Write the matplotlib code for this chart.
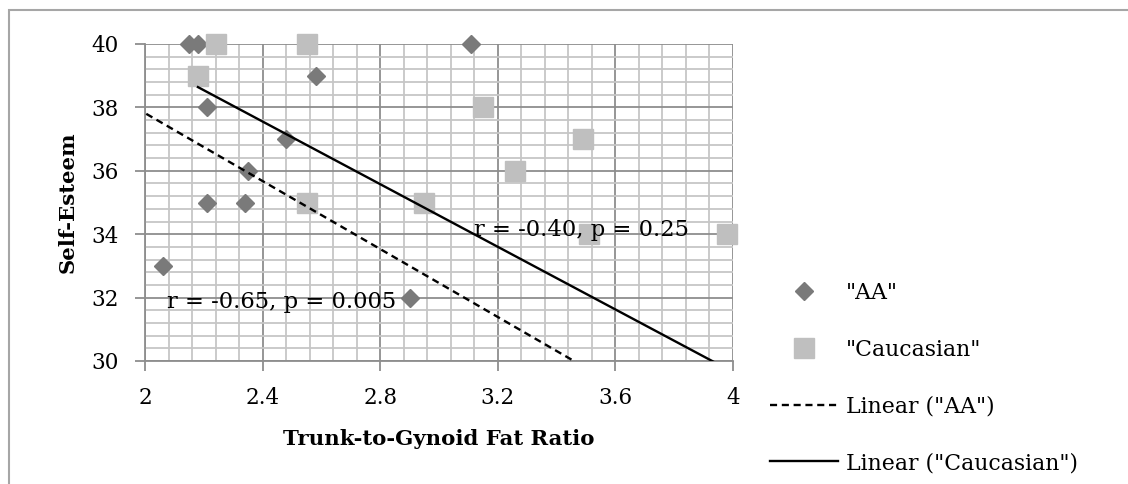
import numpy as np
import matplotlib
matplotlib.use("Agg")
import matplotlib.pyplot as plt
from matplotlib.ticker import MultipleLocator
from matplotlib.lines import Line2D
from matplotlib.patches import Rectangle

plt.rcParams['font.family'] = ['DejaVu Serif']

# Datos
aa_x = [2.15, 2.18, 2.21, 2.58, 2.48, 2.35, 2.21, 2.34, 3.11, 2.06, 2.90]
aa_y = [40, 40, 38, 39, 37, 36, 35, 35, 40, 33, 32]
cau_x = [2.24, 2.18, 2.55, 2.55, 2.95, 3.15, 3.26, 3.49, 3.51, 3.98]
cau_y = [40, 39, 40, 35, 35, 38, 36, 37, 34, 34]

# Líneas de tendencia (pendiente, intercepto, rango x)
trend_aa = (-5.36, 48.54, 1.9, 3.6)
trend_cau = (-4.94, 49.41, 2.18, 4.0)

label_aa = 'r = -0.65, p = 0.005'
label_cau = 'r = -0.40, p = 0.25'

W, H = 1128, 484
fig = plt.figure(figsize=(W / 100, H / 100), dpi=100)
ax = fig.add_axes([145 / W, 1 - 361 / H, 588 / W, 317 / H])

# Marco exterior del gráfico
fig.patches.append(Rectangle((9 / W, -0.1), 1.2, 1 - 10 / H + 0.1, transform=fig.transFigure,
                             fill=False, edgecolor='#a6a6a6', linewidth=1.5))

ax.set_xlim(2, 4)
ax.set_ylim(30, 40)
ax.xaxis.set_minor_locator(MultipleLocator(0.08))
ax.yaxis.set_major_locator(MultipleLocator(2))
ax.yaxis.set_minor_locator(MultipleLocator(0.4))
ax.set_xticks([2, 2.4, 2.8, 3.2, 3.6, 4], ['2', '2.4', '2.8', '3.2', '3.6', '4'])

ax.grid(which='minor', color='#c6c6c6', linewidth=1.3)
ax.grid(which='major', color='#8e8e8e', linewidth=1.3)
ax.set_axisbelow(True)
for s in ['top', 'right']:
    ax.spines[s].set_visible(False)
for s in ['left', 'bottom']:
    ax.spines[s].set_color('#8e8e8e')
    ax.spines[s].set_linewidth(1.3)
ax.tick_params(which='major', length=7, width=1.3, color='#8e8e8e', labelsize=15.5)
ax.tick_params(which='minor', length=0)
ax.tick_params(axis='y', pad=12)
ax.tick_params(axis='x', pad=12)

ax.plot(aa_x, aa_y, linestyle='none', marker='D', markersize=8.7, color='#7a7a7a',
        clip_on=False, zorder=3)
ax.plot(cau_x, cau_y, linestyle='none', marker='s', markersize=14, color='#bfbfbf',
        clip_on=False, zorder=3)

for (m, b, x0, x1), ls in [(trend_aa, (0, (3, 2))), (trend_cau, '-')]:
    xs = np.array([x0, x1])
    ax.plot(xs, m * xs + b, color='black', linewidth=1.7, linestyle=ls, zorder=4)

ax.text(2.075, 31.85, label_aa, fontsize=16.3, va='center', zorder=5)
ax.text(3.12, 34.13, label_cau, fontsize=16.3, va='center', zorder=5)

ax.set_xlabel('Trunk-to-Gynoid Fat Ratio', fontsize=15.3, fontweight='bold', labelpad=14)
ax.set_ylabel('Self-Esteem', fontsize=15.3, fontweight='bold', labelpad=10)

handles = [
    Line2D([], [], linestyle='none', marker='D', markersize=8.7, color='#7a7a7a'),
    Line2D([], [], linestyle='none', marker='s', markersize=14, color='#bfbfbf'),
    Line2D([], [], color='black', linewidth=1.7, linestyle=(0, (3, 2))),
    Line2D([], [], color='black', linewidth=1.7),
]
labels = ['"AA"', '"Caucasian"', 'Linear ("AA")', 'Linear ("Caucasian")']
fig.legend(handles, labels, loc='upper left', bbox_to_anchor=(770 / W, 1 - 282 / H),
           frameon=False, fontsize=15.8, handlelength=3.1, handletextpad=0.35,
           labelspacing=1.58, borderpad=0, borderaxespad=0)

fig.savefig('out.png', dpi=100)
